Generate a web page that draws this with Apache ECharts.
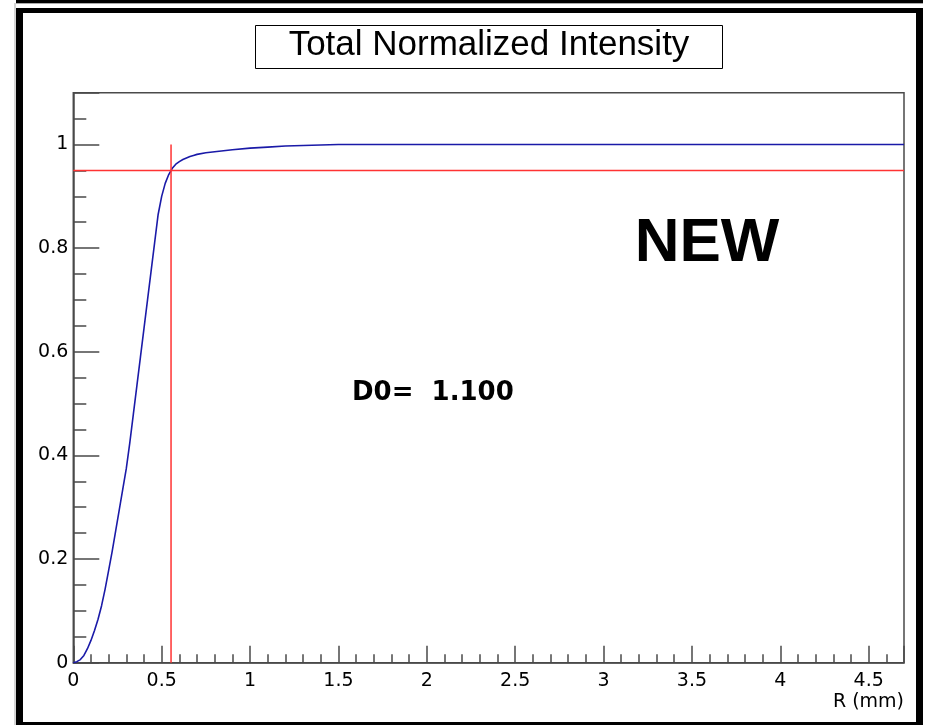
<!DOCTYPE html>
<html><head><meta charset="utf-8">
<script src="https://cdn.jsdelivr.net/npm/echarts@6/dist/echarts.min.js"></script>
<style>html,body{margin:0;padding:0;background:#fff}#c{width:931px;height:725px}</style>
</head><body><div id="c"></div>
<script>
// ---- data ----
const rValues = [0, 0.02, 0.04, 0.06, 0.08, 0.10, 0.12, 0.14, 0.16, 0.18, 0.20, 0.22, 0.24, 0.26, 0.28, 0.30,
  0.32, 0.34, 0.36, 0.38, 0.40, 0.42, 0.44, 0.46, 0.48, 0.50, 0.52, 0.54, 0.56, 0.58, 0.60, 0.62, 0.64, 0.66,
  0.68, 0.70, 0.75, 0.80, 0.85, 0.90, 1.0, 1.1, 1.2, 1.3, 1.4, 1.5, 4.7];
const intensity = [0, 0.002, 0.006, 0.014, 0.027, 0.043, 0.062, 0.084, 0.11, 0.142, 0.178, 0.215, 0.255, 0.295,
  0.335, 0.375, 0.425, 0.48, 0.535, 0.59, 0.645, 0.70, 0.755, 0.81, 0.865, 0.90, 0.925, 0.942, 0.954, 0.962,
  0.967, 0.971, 0.974, 0.977, 0.979, 0.981, 0.984, 0.986, 0.988, 0.990, 0.993, 0.995, 0.997, 0.998, 0.999, 1.0, 1.0];
const cutLevel = 0.95;      // horizontal red line
const cutRadius = 0.553;    // vertical red line
const xTickValues = [0, 0.5, 1, 1.5, 2, 2.5, 3, 3.5, 4, 4.5];
const xTickLabels = ['0', '0.5', '1', '1.5', '2', '2.5', '3', '3.5', '4', '4.5'];
const yTickValues = [0, 0.2, 0.4, 0.6, 0.8, 1];
const yTickLabels = ['0', '0.2', '0.4', '0.6', '0.8', '1'];
const titleText = 'Total Normalized Intensity';
const xAxisTitle = 'R (mm)';
const tagText = 'NEW';
const d0Text = 'D0=  1.100';
const X_MAX = 4.7, Y_MAX = 1.1;

function lookup(vals, labels, v) {
  for (let i = 0; i < vals.length; i++) if (Math.abs(vals[i] - v) < 1e-6) return labels[i];
  return '';
}

const FONT = '"Liberation Sans", Arial, Helvetica, sans-serif';
const WFONT = '"DejaVu Sans", Verdana, sans-serif';
const AX = '#4a4a4a';
const chart = echarts.init(document.getElementById('c'), null, {renderer: 'canvas'});

const curve = rValues.map((r, i) => [r, intensity[i]]);

chart.setOption({
  animation: false,
  backgroundColor: '#ffffff',
  grid: {left: 73.3, right: 27, top: 92.7, bottom: 62.3, show: true, borderColor: AX, borderWidth: 1.5, backgroundColor: 'transparent'},
  xAxis: [
    {type: 'value', min: 0, max: X_MAX, interval: 0.5, position: 'bottom',
     axisLine: {show: true, onZero: false, lineStyle: {color: AX, width: 1.5}},
     axisTick: {show: true, inside: true, length: 17, lineStyle: {color: AX, width: 1.5}},
     axisLabel: {show: true, margin: 9, color: '#000', fontSize: 19, fontFamily: WFONT,
       formatter: v => lookup(xTickValues, xTickLabels, v)},
     splitLine: {show: false}},
    {type: 'value', min: 0, max: X_MAX, interval: 0.1, position: 'bottom',
     axisLine: {show: false},
     axisTick: {show: true, inside: true, length: 8.5, lineStyle: {color: AX, width: 1.5}},
     axisLabel: {show: false}, splitLine: {show: false}}
  ],
  yAxis: [
    {type: 'value', min: 0, max: Y_MAX, interval: 0.2, position: 'left',
     axisLine: {show: true, onZero: false, lineStyle: {color: AX, width: 1.5}},
     axisTick: {show: true, inside: true, length: 26, lineStyle: {color: AX, width: 1.5}},
     axisLabel: {show: true, margin: 5, color: '#000', fontSize: 19, fontFamily: WFONT,
       formatter: v => lookup(yTickValues, yTickLabels, v)},
     splitLine: {show: false}},
    {type: 'value', min: 0, max: Y_MAX, interval: 0.05, position: 'left',
     axisLine: {show: false},
     axisTick: {show: true, inside: true, length: 13, lineStyle: {color: AX, width: 1.5}},
     axisLabel: {show: false}, splitLine: {show: false}}
  ],
  series: [
    {type: 'line', name: 'intensity', xAxisIndex: 0, yAxisIndex: 0, data: curve,
     showSymbol: false, symbol: 'none', lineStyle: {color: '#1a1aa8', width: 1.6}, z: 3},
    {type: 'line', name: 'cutH', xAxisIndex: 0, yAxisIndex: 0, data: [[0, cutLevel], [X_MAX, cutLevel]],
     showSymbol: false, symbol: 'none', lineStyle: {color: '#ff3333', width: 1.5}, z: 4},
    {type: 'line', name: 'cutV', xAxisIndex: 0, yAxisIndex: 0, data: [[cutRadius, 0], [cutRadius, 1]],
     showSymbol: false, symbol: 'none', lineStyle: {color: '#ff3333', width: 1.5}, z: 4}
  ],
  graphic: [
    // window-like black border
    {type: 'rect', shape: {x: 16, y: 0, width: 907, height: 3}, style: {fill: '#000'}, z: 100},
    {type: 'rect', shape: {x: 16, y: 3, width: 907, height: 1}, style: {fill: '#aaa'}, z: 100},
    {type: 'rect', shape: {x: 14.5, y: 3, width: 1, height: 722}, style: {fill: '#aaa'}, z: 100},
    {type: 'rect', shape: {x: 16, y: 8, width: 907, height: 5, r: [4, 4, 0, 0]}, style: {fill: '#000'}, z: 100},
    {type: 'rect', shape: {x: 16, y: 8, width: 7, height: 717}, style: {fill: '#000'}, z: 100},
    {type: 'rect', shape: {x: 916, y: 8, width: 7, height: 717}, style: {fill: '#000'}, z: 100},
    {type: 'rect', shape: {x: 16, y: 722, width: 907, height: 3}, style: {fill: '#000'}, z: 100},
    // title box
    {type: 'rect', shape: {x: 255.5, y: 25.5, width: 467, height: 43}, style: {fill: '#fff', stroke: '#000', lineWidth: 1}, z: 50},
    {type: 'text', x: 489, y: 45, style: {text: titleText, font: '35px ' + FONT, fill: '#000', align: 'center', verticalAlign: 'middle'}, z: 51},
    // annotations
    {type: 'text', x: 707, y: 244, style: {text: tagText, font: 'bold 62px ' + FONT, fill: '#000', align: 'center', verticalAlign: 'middle'}, z: 51},
    {type: 'text', x: 352, y: 393, style: {text: d0Text, font: 'bold 26px ' + WFONT, fill: '#000', align: 'left', verticalAlign: 'middle'}, z: 51},
    {type: 'text', x: 904, y: 702, style: {text: xAxisTitle, font: '19px ' + WFONT, fill: '#000', align: 'right', verticalAlign: 'middle'}, z: 51}
  ]
});
</script>
</body></html>
